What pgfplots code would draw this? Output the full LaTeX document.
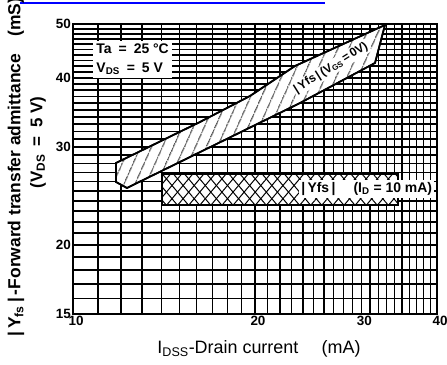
\documentclass[border=0pt]{standalone}
\usepackage{fontspec}
\setmainfont{Liberation Sans}
\usepackage{pgfplots}
\pgfplotsset{compat=1.18}
\usetikzlibrary{patterns.meta}

\begin{document}
\begin{tikzpicture}[x=1bp,y=1bp]
\path[use as bounding box] (0,0) rectangle (447,364);
\draw[blue, line width=2bp] (20,361) -- (325,361);
\begin{axis}[
  at={(73bp,50bp)}, anchor=south west,
  scale only axis, width=364bp, height=290bp,
  xmode=log, ymode=log,
  xmin=10, xmax=40, ymin=15, ymax=50,
  xtick={10,20,30,40}, xticklabels={10,20,30,40},
  minor xtick={11,12,...,39},
  ytick={15,20,30,40,50}, yticklabels={15,20,30,40,50},
  minor ytick={16,17,...,49},
  grid=both,
  major x grid style={black, line width=1.3bp},
  minor x grid style={black, line width=1.3bp},
  major y grid style={black, line width=1.6bp},
  minor y grid style={black, line width=1.6bp},
  axis line style={black, line width=1.4bp},
  major tick length=0pt, minor tick length=0pt,
  ticklabel style={font=\bfseries\fontsize{13.5}{14}\selectfont},
  xticklabel style={xshift=3bp, yshift=1bp},
  yticklabel style={inner sep=2bp},
  clip=false,
]
% band 1: |Yfs| (VGS = 0 V)
\addplot[draw=black, line width=1.7bp, preaction={fill=white},
  pattern={Lines[angle=66,distance=10bp,line width=1bp]}]
  coordinates {(11.78,28.08) (16.22,33.29) (19.62,37.08) (23.29,42.0) (32.81,49.79)
               (31.59,42.53) (23.74,36.02) (12.28,25.31) (11.78,25.95)} -- cycle;
% band 2: |Yfs| (ID = 10 mA)
\addplot[draw=black, line width=1.7bp, preaction={fill=white},
  pattern={Lines[angle=50,distance=8.5bp,line width=1bp]},
  postaction={pattern={Lines[angle=130,distance=8.5bp,line width=1bp]}}]
  coordinates {(14.03,26.8) (34.5,26.8) (34.5,23.6) (14.03,23.6)} -- cycle;
\node[fill=white, inner sep=1.5bp, rotate=32, font=\bfseries\fontsize{12}{12}\selectfont]
  at (axis cs:26.71,41.65) {|\,Yfs\,|\,(V\textsubscript{GS}\,=\,0V)};
\node[fill=white, inner sep=2bp, font=\bfseries\fontsize{14}{14}\selectfont]
  at (axis cs:30.6,25.2) {|\,Yfs\,|\hspace{1.3em}(I\textsubscript{D} = 10 mA)};
\node[fill=white, align=left, inner sep=3bp, font=\bfseries\fontsize{14}{19}\selectfont]
  at (axis cs:12.55,43.2) {Ta\enspace=\enspace25 °C\\V\textsubscript{DS}\enspace=\enspace5 V};
\end{axis}
\node[font=\fontsize{18}{18}\selectfont] at (259,15) {I\textsubscript{DSS}-Drain current\hspace{1.3em}(mA)};
\node[rotate=90, anchor=west, font=\bfseries\fontsize{17.5}{17.5}\selectfont] at (16,24)
  {|\,Y\textsubscript{fs}\,|\,-Forward transfer admittance\hspace{1em}(mS)};
\node[rotate=90, anchor=west, font=\bfseries\fontsize{17}{17}\selectfont] at (38,172)
  {(V\textsubscript{DS}\enspace=\enspace5 V)};
\end{tikzpicture}
\end{document}
